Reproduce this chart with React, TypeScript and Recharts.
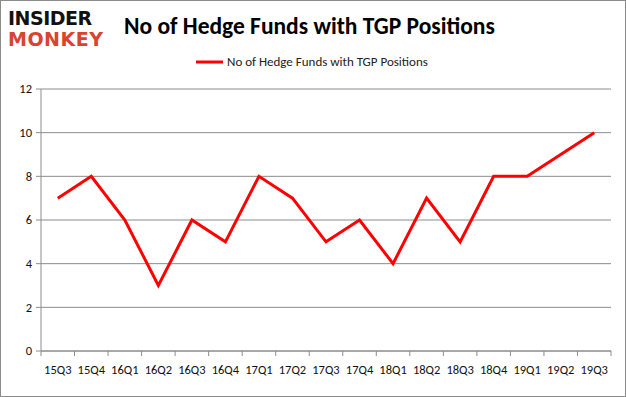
import React from 'react';
import { LineChart, Line, XAxis, YAxis, CartesianGrid } from 'recharts';

const quarters = ['15Q3', '15Q4', '16Q1', '16Q2', '16Q3', '16Q4', '17Q1', '17Q2', '17Q3', '17Q4', '18Q1', '18Q2', '18Q3', '18Q4', '19Q1', '19Q2', '19Q3'];
const funds = [7, 8, 6, 3, 6, 5, 8, 7, 5, 6, 4, 7, 5, 8, 8, 9, 10];
const yTicks = [0, 2, 4, 6, 8, 10, 12];

const seriesName = 'No of Hedge Funds with TGP Positions';
const font = 'Carlito, Calibri, "Open Sans", sans-serif';
const axisGray = '#8c8c8c';

const chartData = quarters.map((q, i) => ({ q, funds: funds[i] }));

// label under each band plus Excel-style tick marks on the band edges
const QuarterTick = (props: any) => {
  const { x, y, payload } = props;
  const half = payload.offset || 0;
  const last = payload.index === quarters.length - 1;
  return (
    <g>
      <line x1={x - half} y1={y} x2={x - half} y2={y + 5} stroke={axisGray} />
      {last && <line x1={x + half} y1={y} x2={x + half} y2={y + 5} stroke={axisGray} />}
      <text x={x} y={y + 23} textAnchor="middle" fill="#111" fontSize={12.5} fontFamily={font}>
        {payload.value}
      </text>
    </g>
  );
};

export default function App() {
  return (
    <div style={{ position: 'absolute', left: 0, top: 0, width: 624, height: 395, border: '1px solid #8c8c8c', background: '#fff' }}>
      <div style={{ position: 'absolute', left: 7, top: 7, fontFamily: '"DejaVu Sans", sans-serif', fontWeight: 900, lineHeight: '21px', fontSize: 19, letterSpacing: -0.5 }}>
        <div style={{ color: '#111' }}>INSIDER</div>
        <div style={{ color: '#d9432f', letterSpacing: 0.5 }}>MONKEY</div>
      </div>
      <div style={{ position: 'absolute', left: 123, top: 11, fontFamily: font, fontWeight: 700, fontSize: 23.5, color: '#000', whiteSpace: 'nowrap' }}>
        {seriesName}
      </div>
      <div style={{ position: 'absolute', left: 195, top: 53, display: 'flex', alignItems: 'center', fontFamily: font, fontSize: 13, color: '#222' }}>
        <svg width={27} height={6} style={{ marginRight: 4 }}>
          <line x1={0} y1={3} x2={27} y2={3} stroke="#ff0000" strokeWidth={3} />
        </svg>
        {seriesName}
      </div>
      <LineChart width={624} height={395} data={chartData} margin={{ top: 88, right: 14, bottom: 9, left: 0 }}>
        <CartesianGrid vertical={false} stroke={axisGray} />
        <YAxis
          width={40}
          domain={[0, 12]}
          ticks={yTicks}
          interval={0}
          stroke={axisGray}
          tickSize={5}
          tickMargin={4}
          tick={{ fill: '#111', fontSize: 12.5, fontFamily: font }}
        />
        <XAxis
          dataKey="q"
          scale="band"
          height={36}
          interval={0}
          stroke={axisGray}
          tickLine={false}
          tickSize={0}
          tickMargin={0}
          tick={<QuarterTick />}
        />
        <Line
          type="linear"
          dataKey="funds"
          name={seriesName}
          stroke="#ff0000"
          strokeWidth={3}
          dot={false}
          isAnimationActive={false}
        />
      </LineChart>
    </div>
  );
}
